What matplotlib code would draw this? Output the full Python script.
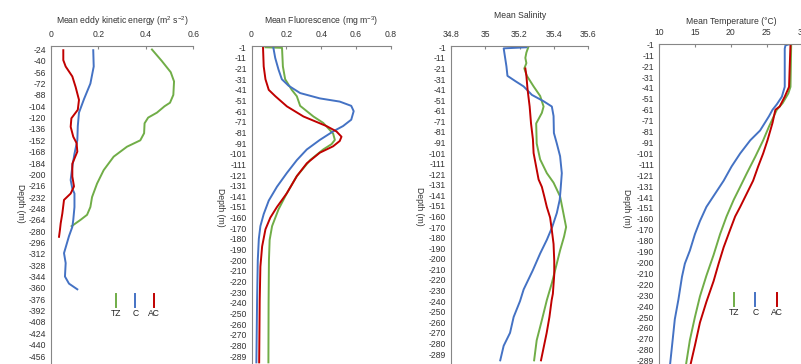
import numpy as np
import matplotlib
matplotlib.use("Agg")
import matplotlib.pyplot as plt
from matplotlib.lines import Line2D

plt.rcParams['font.family'] = ['Liberation Sans', 'DejaVu Sans']
plt.rcParams['mathtext.fontset'] = 'custom'
plt.rcParams['mathtext.rm'] = 'Liberation Sans'
plt.rcParams['mathtext.it'] = 'Liberation Sans'

W, H = 801, 364
GREEN, BLUE, RED = '#70AD47', '#4472C4', '#C00000'
AXCOL = '#868686'
TXT = '#333333'
FS = 6.2
LW = 1.4

# ---- panel 1: eddy kinetic energy (depth in m, linear)
eke_ticks = list(range(-24, -457, -16))
eke_tz_depth = [-24, -40, -56, -69, -88, -99, -104, -113, -120, -128, -142, -152, -161, -175, -194,
                -213, -232, -246, -257, -264, -273, np.nan, -448, -470]
eke_tz = [0.426, 0.467, 0.505, 0.519, 0.516, 0.502, 0.479, 0.447, 0.41, 0.395, 0.393, 0.377, 0.321,
          0.265, 0.223, 0.195, 0.174, 0.167, 0.153, 0.126, 0.088, np.nan, 0.0, 0.0]
eke_c_depth = [-25, -48, -72, -94, -113, -132, -152, -171, -189, -208, -220, -227, -246, -264, -274,
               -287, -311, -325, -344, -354, -362]
eke_c = [0.179, 0.181, 0.167, 0.140, 0.119, 0.114, 0.112, 0.100, 0.091, 0.084, 0.091, 0.100, 0.100,
         0.095, 0.091, 0.077, 0.056, 0.063, 0.060, 0.077, 0.112]
eke_ac_depth = [-25, -39, -48, -62, -77, -95, -109, -121, -133, -147, -156, -168, -185, -203, -217,
                -227, -236, -255, -269, -278, -288]
eke_ac = [0.053, 0.053, 0.063, 0.091, 0.105, 0.119, 0.114, 0.087, 0.084, 0.095, 0.109, 0.112, 0.091,
          0.091, 0.098, 0.084, 0.056, 0.049, 0.042, 0.039, 0.035]

# ---- panels 2-4 share a category depth axis
cat_labels = [-1, -11, -21, -31, -41, -51, -61, -71, -81, -91, -101, -111, -121, -131, -141, -151,
              -160, -170, -180, -190, -200, -210, -220, -230, -240, -250, -260, -270, -280, -289]

# fluorescence
fl_tz_depth = [-1, -1.5, -19, -31, -41, -47, -56, -66, -72, -82, -88, -92, -97, -107, -122, -138,
               -153, -168, -181, -200, -240, -295]
fl_tz = [0.08, 0.175, 0.18, 0.193, 0.231, 0.26, 0.279, 0.355, 0.411, 0.468, 0.478, 0.459, 0.411,
         0.336, 0.26, 0.203, 0.155, 0.118, 0.104, 0.1, 0.098, 0.097]
fl_c_depth = [-1, -11, -22, -31, -37, -44, -49, -52, -56, -61, -69, -75, -80, -88, -97, -107, -119,
              -132, -145, -157, -168, -180, -200, -238, -295]
fl_c = [0.125, 0.136, 0.155, 0.174, 0.212, 0.279, 0.392, 0.506, 0.572, 0.586, 0.572, 0.525, 0.468,
        0.392, 0.317, 0.26, 0.203, 0.146, 0.099, 0.07, 0.051, 0.042, 0.036, 0.032, 0.028]
fl_ac_depth = [-1, -19, -31, -41, -47, -56.5, -66, -75, -80, -85, -89, -94, -100, -110, -122, -138,
               -151, -160, -171, -187, -206, -238, -295]
fl_ac = [0.066, 0.07, 0.08, 0.099, 0.137, 0.203, 0.298, 0.43, 0.487, 0.516, 0.506, 0.468, 0.392,
         0.317, 0.26, 0.203, 0.146, 0.108, 0.08, 0.061, 0.051, 0.047, 0.044]

# salinity
sal_tz_depth = [-1, -6, -11, -16, -21, -28, -38, -47, -57, -63, -73, -92, -107, -120, -129, -142,
                -157, -170, -179, -192, -207, -223, -239, -258, -277, -295]
sal_tz = [35.251, 35.24, 35.234, 35.24, 35.228, 35.243, 35.282, 35.32, 35.34, 35.33, 35.297, 35.30,
          35.32, 35.359, 35.398, 35.436, 35.455, 35.471, 35.459, 35.436, 35.413, 35.388, 35.359,
          35.33, 35.30, 35.285]
sal_c_depth = [-1, -2, -19, -28, -33, -38, -46, -52, -57, -66, -82, -92, -104, -120, -133, -145,
               -157, -170, -182, -195, -211, -229, -240, -255, -270, -282, -295]
sal_c = [35.24, 35.108, 35.124, 35.13, 35.176, 35.224, 35.272, 35.34, 35.388, 35.398, 35.40,
         35.417, 35.436, 35.446, 35.44, 35.434, 35.417, 35.39, 35.359, 35.32, 35.277, 35.224,
         35.203, 35.166, 35.145, 35.108, 35.088]
sal_ac_depth = [-21, -28, -41, -57, -73, -88, -101, -114, -126, -133, -142, -152, -161, -173, -186,
                -202, -215, -233, -239, -255, -270, -295]
sal_ac = [35.234, 35.24, 35.247, 35.259, 35.267, 35.278, 35.282, 35.297, 35.311, 35.33, 35.344,
          35.359, 35.378, 35.388, 35.398, 35.402, 35.402, 35.394, 35.387, 35.374, 35.358, 35.325]

# temperature
tmp_tz_depth = [-1, -40, -46, -55, -61, -76.5, -89, -104, -119.5, -131.6, -143.5, -158, -174, -193,
                -212, -231, -250, -271, -295]
tmp_tz = [28.4, 28.3, 28.0, 27.2, 26.4, 25.3, 24.5, 23.4, 22.2, 21.3, 20.4, 19.4, 18.5, 17.6, 16.6,
          15.7, 15.0, 14.3, 13.7]
tmp_c_depth = [-1, -2, -5, -40, -49, -56, -61, -67, -80, -89, -101, -113, -126, -138, -150, -162,
               -174, -189, -201, -213, -234, -252, -271, -295]
tmp_c = [28.1, 27.6, 27.5, 27.5, 27.1, 26.4, 25.8, 25.3, 24.07, 22.7, 21.3, 20.1, 19.0, 17.8, 16.6,
         15.7, 15.0, 14.3, 13.6, 13.2, 12.7, 12.2, 11.9, 11.5]
tmp_ac_depth = [-1, -40, -49, -58, -61, -73, -89, -101, -113, -126, -138, -150, -158, -170, -186,
                -201, -217, -236, -255, -276, -295]
tmp_ac = [28.3, 28.1, 27.5, 26.8, 26.2, 25.8, 25.1, 24.5, 23.8, 23.1, 22.2, 21.3, 20.6, 19.9, 19.0,
          18.3, 17.6, 16.6, 15.7, 15.0, 14.3]


def to_pos(d):
    # depth -> category index (one extra category past the last label)
    xp = [-v for v in cat_labels] + [299]
    return np.interp(-np.asarray(d, dtype=float), xp, np.arange(len(xp)))


def fx(x):
    return x / W


def fy(y):
    return 1 - y / H


def make_axes(fig, left, right, top, bottom):
    ax = fig.add_axes([fx(left), fy(bottom), fx(right - left), (bottom - top) / H])
    for s in ['right', 'bottom']:
        ax.spines[s].set_visible(False)
    for s in ['left', 'top']:
        ax.spines[s].set_color(AXCOL)
        ax.spines[s].set_linewidth(0.8)
    ax.xaxis.tick_top()
    ax.tick_params(axis='x', direction='in', length=2.5, color=AXCOL, labelsize=FS,
                   labelcolor=TXT, pad=5)
    ax.tick_params(axis='y', length=0, labelsize=FS, labelcolor=TXT, pad=3.5)
    return ax


def ylim_from(ax, v_first, py_first, v_last, py_last, top, bottom):
    k = (v_last - v_first) / (py_last - py_first)
    ax.set_ylim(v_first + (bottom - py_first) * k, v_first + (top - py_first) * k)


fig = plt.figure(figsize=(W / 100, H / 100), dpi=100)
BOT = 430

# panel 1
ax1 = make_axes(fig, 50.7, 193.3, 45.7, BOT)
ax1.plot(eke_tz, eke_tz_depth, color=GREEN, lw=LW)
ax1.plot(eke_c, eke_c_depth, color=BLUE, lw=LW)
ax1.plot(eke_ac, eke_ac_depth, color=RED, lw=LW)
ax1.set_xlim(0, 0.6)
ax1.set_xticks([0, 0.2, 0.4, 0.6], ['0', '0.2', '0.4', '0.6'])
ax1.set_yticks(eke_ticks, [str(v) for v in eke_ticks])
ylim_from(ax1, -24, 49.5, -456, 356, 45.7, BOT)

# panel 2
ax2 = make_axes(fig, 251.5, 391, 46, BOT)
ax2.plot(fl_tz, to_pos(fl_tz_depth), color=GREEN, lw=LW)
ax2.plot(fl_c, to_pos(fl_c_depth), color=BLUE, lw=LW)
ax2.plot(fl_ac, to_pos(fl_ac_depth), color=RED, lw=LW)
ax2.set_xlim(0, 0.8)
ax2.set_xticks([0, 0.2, 0.4, 0.6, 0.8], ['0', '0.2', '0.4', '0.6', '0.8'])

# panel 3
ax3 = make_axes(fig, 450.7, 588.3, 45.7, BOT)
ax3.plot(sal_tz, to_pos(sal_tz_depth), color=GREEN, lw=LW)
ax3.plot(sal_c, to_pos(sal_c_depth), color=BLUE, lw=LW)
ax3.plot(sal_ac, to_pos(sal_ac_depth), color=RED, lw=LW)
ax3.set_xlim(34.8, 35.6)
ax3.set_xticks([34.8, 35.0, 35.2, 35.4, 35.6], ['34.8', '35', '35.2', '35.4', '35.6'])

# panel 4
ax4 = make_axes(fig, 659, 802.7, 43.5, BOT)
ax4.plot(tmp_tz, to_pos(tmp_tz_depth), color=GREEN, lw=LW)
ax4.plot(tmp_c, to_pos(tmp_c_depth), color=BLUE, lw=LW)
ax4.plot(tmp_ac, to_pos(tmp_ac_depth), color=RED, lw=LW)
ax4.set_xlim(10, 30)
ax4.set_xticks([10, 15, 20, 25, 30], ['10', '15', '20', '25', '30'])

cat_pix = [(ax2, 47.3, 356, 46), (ax3, 47.3, 354, 45.7), (ax4, 44.3, 360.7, 43.5)]
for ax, p0, p1, top in cat_pix:
    ax.set_yticks(range(len(cat_labels)), [str(v) for v in cat_labels])
    ylim_from(ax, 0, p0, len(cat_labels) - 1, p1, top, BOT)

# titles
titles = [('Mean eddy kinetic energy (m$^{2}$ s$^{-2}$)', 122, 21),
          ('Mean Fluorescence (mg m$^{-3}$)', 321, 21),
          ('Mean Salinity', 520, 15),
          ('Mean Temperature (°C)', 731, 21)]
for t, x, y in titles:
    fig.text(fx(x), fy(y), t, ha='center', va='center', fontsize=FS, color=TXT)

# depth labels
for x, y in [(20.7, 203), (220, 207), (420, 206), (627, 208)]:
    fig.text(fx(x), fy(y), 'Depth (m)', rotation=270, ha='center', va='center',
             fontsize=FS, color=TXT)

# legends (vertical line keys with label underneath)
legend_names = ['TZ', 'C', 'AC']
legend_cols = [GREEN, BLUE, RED]
for xs, y0, y1, yt in [([116, 135.3, 154], 294, 307, 313.5), ([734.3, 755.3, 777.3], 292.7, 306, 312.5)]:
    for x, name, col in zip(xs, legend_names, legend_cols):
        fig.add_artist(Line2D([fx(x), fx(x)], [fy(y0), fy(y1)], color=col, lw=LW,
                              transform=fig.transFigure))
        fig.text(fx(x), fy(yt), name, ha='center', va='center', fontsize=FS, color='#222222')

fig.savefig('out.png', dpi=100)
